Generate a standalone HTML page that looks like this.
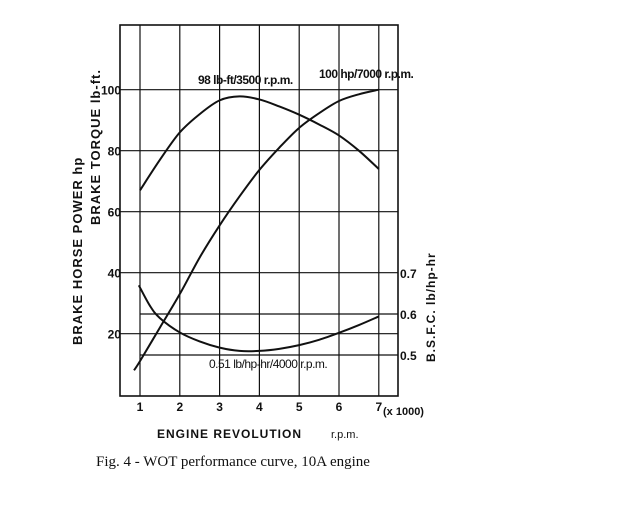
<!DOCTYPE html>
<html><head><meta charset="utf-8"><style>
html,body{margin:0;padding:0;background:#fff;}
svg{display:block;}
text{font-family:"Liberation Sans",sans-serif;fill:#111;}
</style></head><body>
<svg id="chart" width="640" height="512" viewBox="0 0 640 512" xmlns="http://www.w3.org/2000/svg">
<g id="grid"></g>
<g id="curves"></g>
<g id="labels">
<text transform="translate(82,345) rotate(-90)" font-size="13" font-weight="bold" letter-spacing="1">BRAKE HORSE POWER  hp</text>
<text transform="translate(100,225) rotate(-90)" font-size="13" font-weight="bold" letter-spacing="1">BRAKE  TORQUE  lb-ft.</text>
<text transform="translate(435,362) rotate(-90)" font-size="12" font-weight="bold" letter-spacing="1">B.S.F.C.   lb/hp-hr</text>
<text x="157" y="438" font-size="12" font-weight="bold" letter-spacing="1">ENGINE  REVOLUTION</text>
<text x="331" y="438" font-size="11">r.p.m.</text>
<text x="383" y="415" font-size="11" font-weight="bold">(x 1000)</text>
<text x="198" y="84" font-size="12" font-weight="bold" letter-spacing="-0.5">98 lb-ft/3500 r.p.m.</text>
<text x="319" y="78" font-size="12" font-weight="bold" letter-spacing="-0.5">100 hp/7000 r.p.m.</text>
<text x="209" y="368" font-size="12" letter-spacing="-0.5">0.51 lb/hp-hr/4000 r.p.m.</text>
<text x="96" y="466" font-size="15" style="font-family:'Liberation Serif',serif">Fig. 4 - WOT performance curve, 10A engine</text>
</g>
</svg>
<script>
const xTicks = [1,2,3,4,5,6,7];
const yTicks = [20,40,60,80,100];
const bsfcTicks = [0.5,0.6,0.7];
const torqueRpm = [1,1.5,2,2.5,3,3.5,4,4.5,5,5.5,6,6.5,7];
const torqueVals = [67,77,86,92,96.5,97.8,96.8,94.5,91.8,88.6,85,80,74];
const powerRpm = [0.85,1,1.5,2,2.5,3,3.5,4,4.5,5,5.5,6,6.5,7];
const powerVals = [8,11,22,33,45,55.5,65,73.7,81,87.5,92.3,96.3,98.5,100];
const bsfcRpm = [0.97,1.25,1.5,2,2.5,3,3.5,4,4.5,5,5.5,6,6.5,7];
const bsfcVals = [0.67,0.62,0.59,0.555,0.533,0.518,0.51,0.51,0.515,0.524,0.537,0.554,0.573,0.594];

const X0=120,X1=398,Y0=25,Y1=396;
function xs(r){return 140+39.8*(r-1);}
function ys(v){return 394.7-3.05*v;}
function yb(b){return 355-(b-0.5)*410;}
const NS="http://www.w3.org/2000/svg";
function mk(tag,attrs,parent){const e=document.createElementNS(NS,tag);for(const k in attrs)e.setAttribute(k,attrs[k]);parent.appendChild(e);return e;}
const grid=document.getElementById('grid'), curves=document.getElementById('curves'), labels=document.getElementById('labels');

let f=mk('rect',{x:X0,y:Y0,width:X1-X0,height:Y1-Y0,fill:'none',stroke:'#111','stroke-width':1.6},grid);


xTicks.forEach(t=>{
  const l=mk('line',{x1:xs(t),x2:xs(t),y1:Y0,y2:Y1,stroke:'#111','stroke-width':1.2},grid);
  
  
  const tx=mk('text',{x:xs(t),y:411,'font-size':12,'font-weight':'bold','text-anchor':'middle'},labels);
  tx.textContent=t;
  
  
});
yTicks.forEach(t=>{
  const l=mk('line',{x1:X0,x2:X1,y1:ys(t),y2:ys(t),stroke:'#111','stroke-width':1.2},grid);
  
  
  const tx=mk('text',{x:X0+1,y:ys(t)+5,'font-size':12,'font-weight':'bold','text-anchor':'end'},labels);
  tx.textContent=t;
  
  
});
bsfcTicks.forEach(t=>{
  if(t<0.7){
    const l=mk('line',{x1:xs(1),x2:X1,y1:yb(t),y2:yb(t),stroke:'#111','stroke-width':1.2},grid);
    
    
  }
  const tx=mk('text',{x:X1+2,y:yb(t)+5,'font-size':12,'font-weight':'bold'},labels);
  tx.textContent=String(t);
  
  
});
function smooth(pts){
  let d='M'+pts[0][0]+','+pts[0][1];
  for(let i=0;i<pts.length-1;i++){
    const p0=pts[i-1]||pts[i],p1=pts[i],p2=pts[i+1],p3=pts[i+2]||p2;
    const c1=[p1[0]+(p2[0]-p0[0])/6,p1[1]+(p2[1]-p0[1])/6];
    const c2=[p2[0]-(p3[0]-p1[0])/6,p2[1]-(p3[1]-p1[1])/6];
    d+=' C'+c1[0]+','+c1[1]+' '+c2[0]+','+c2[1]+' '+p2[0]+','+p2[1];
  }
  return d;
}
const tq=mk('path',{d:smooth(torqueRpm.map((r,i)=>[xs(r),ys(torqueVals[i])])),fill:'none',stroke:'#111','stroke-width':2},curves);


const pw=mk('path',{d:smooth(powerRpm.map((r,i)=>[xs(r),ys(powerVals[i])])),fill:'none',stroke:'#111','stroke-width':2},curves);


const bs=mk('path',{d:smooth(bsfcRpm.map((r,i)=>[xs(r),yb(bsfcVals[i])])),fill:'none',stroke:'#111','stroke-width':2},curves);


</script>
</body></html>
